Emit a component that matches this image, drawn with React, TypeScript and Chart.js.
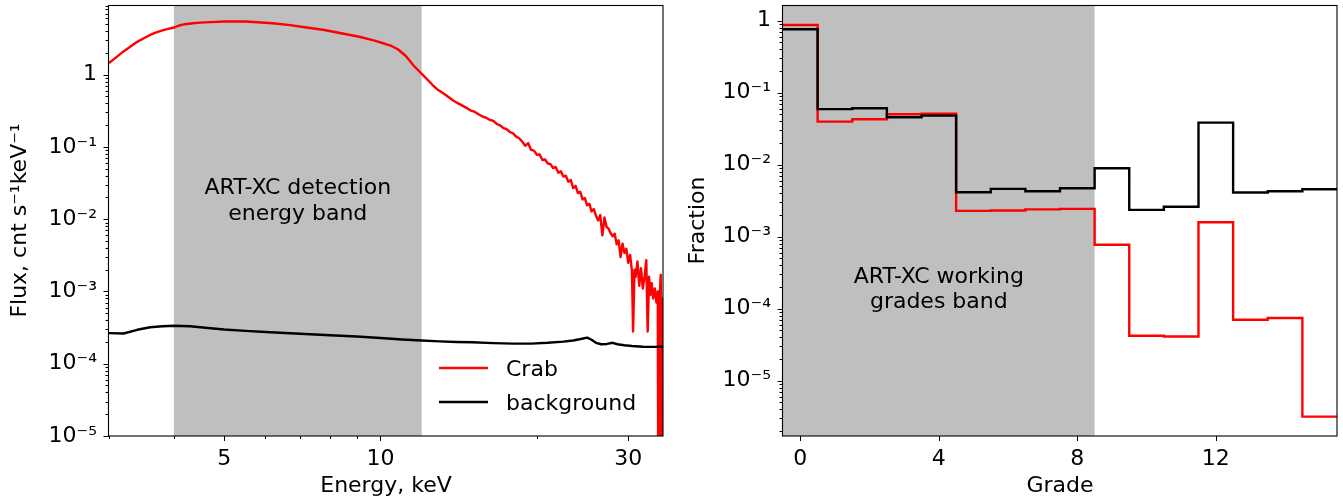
import React, { useEffect, useRef } from 'react';
import { Chart, registerables } from 'chart.js';

Chart.register(...registerables);

const FONT = "'DejaVu Sans', 'Liberation Sans', sans-serif";
const FS = 22;

// ---------- Left panel: spectra ----------
const crabEnergy = [
  3.0, 3.1, 3.2, 3.3, 3.4, 3.5, 3.6, 3.7, 3.8, 3.9, 4.0, 4.1, 4.2, 4.35, 4.5, 4.7, 5.0, 5.25, 5.5, 5.8,
  6.2, 6.7, 7.2, 7.8, 8.4, 9.1, 9.7, 10.2, 10.5, 10.8, 11.2, 11.6, 12.1, 12.6, 12.85, 13.1, 13.35, 13.6, 13.85, 14.2,
  14.5, 14.9, 15.2, 15.5, 15.75, 16.0,
  16.25, 16.5, 16.75, 17.0, 17.25, 17.5, 17.75, 18.0, 18.25, 18.5, 18.75, 19.0, 19.25, 19.5, 19.75, 20.0,
  20.25, 20.5, 20.75, 21.0, 21.25, 21.5, 21.75, 22.0, 22.25, 22.5, 22.75, 23.0, 23.25, 23.5, 23.75, 24.0,
  24.25, 24.5, 24.75, 25.0, 25.25, 25.5, 25.75, 26.0, 26.25, 26.5, 26.75, 27.0, 27.25, 27.5, 27.75, 28.0,
  28.25, 28.5, 28.75, 29.0, 29.25, 29.5, 29.75, 30.0, 30.25, 30.5, 30.65, 30.85, 31.0, 31.25, 31.5, 31.75,
  32.0, 32.25, 32.5, 32.7, 32.9, 33.1, 33.3, 33.5, 33.75, 34.0, 34.2, 34.3, 34.5, 34.65, 34.8, 34.95, 35.1,
];
const crabFlux = [
  1.45, 1.75, 2.1, 2.45, 2.85, 3.2, 3.55, 3.85, 4.1, 4.3, 4.5, 4.8, 5.0, 5.15, 5.25, 5.35, 5.45, 5.48, 5.45, 5.32,
  5.15, 4.85, 4.5, 4.15, 3.75, 3.35, 2.98, 2.68, 2.5, 2.25, 1.8, 1.32, 0.97, 0.72, 0.63, 0.575, 0.525, 0.475, 0.432, 0.392,
  0.362, 0.322, 0.305, 0.279, 0.262, 0.252,
  0.236, 0.229, 0.208, 0.199, 0.183, 0.176, 0.161, 0.154, 0.139, 0.132, 0.118, 0.104, 0.113, 0.091, 0.089, 0.078,
  0.079, 0.066, 0.067, 0.059, 0.058, 0.051, 0.053, 0.044, 0.046, 0.039, 0.04, 0.033, 0.035, 0.027, 0.029, 0.023,
  0.024, 0.0188, 0.0196, 0.0156, 0.0163, 0.0128, 0.0138, 0.0112, 0.0096, 0.0114, 0.006, 0.0106, 0.0078, 0.0074, 0.0064, 0.0058,
  0.0063, 0.0045, 0.0051, 0.003, 0.0046, 0.0034, 0.0039, 0.0025, 0.0032, 0.0019, 0.00028, 0.002, 0.0016, 0.0026, 0.0012, 0.0021,
  0.0011, 0.0016, 0.0027, 0.00028, 0.0016, 0.0009, 0.0013, 0.0008, 0.0011, 0.0007, 0.001, 1e-7, 0.0009, 0.0017, 1e-7, 0.0008, 0.0008,
];
const bkgEnergy = [
  3.0, 3.2, 3.4, 3.6, 3.8, 4.0, 4.3, 4.6, 5.0, 5.5, 6.0, 7.0, 8.0, 9.0, 10.0, 11.0, 12.0, 13.0, 14.0, 15.0,
  16.5, 18.0, 19.5, 21.0, 22.5, 23.5, 24.3, 25.0, 25.5, 26.0, 26.6, 27.3, 28.0, 28.6, 29.5, 30.5, 32.0, 33.5, 35.0,
];
const bkgFlux = [
  2.65e-4, 2.62e-4, 2.95e-4, 3.2e-4, 3.3e-4, 3.36e-4, 3.3e-4, 3.15e-4, 2.98e-4, 2.85e-4, 2.75e-4, 2.6e-4, 2.48e-4,
  2.38e-4, 2.27e-4, 2.17e-4, 2.1e-4, 2.04e-4, 2.0e-4, 1.98e-4, 1.93e-4, 1.9e-4, 1.9e-4, 1.95e-4, 2.02e-4, 2.1e-4,
  2.2e-4, 2.3e-4, 2.15e-4, 1.95e-4, 1.86e-4, 1.88e-4, 1.95e-4, 1.86e-4, 1.8e-4, 1.76e-4, 1.72e-4, 1.71e-4, 1.72e-4,
];
const energyBand = [4, 12];
const energyTicks = [5, 10, 30];
const energyMinorTicks = [3, 4, 6, 7, 8, 9, 20];
const fluxTicks = [1e-5, 1e-4, 1e-3, 1e-2, 1e-1, 1];
const energyRange = [3, 35];
const fluxRange = [1e-5, 9.22];

// ---------- Right panel: grades ----------
const grades = [0, 1, 2, 3, 4, 5, 6, 7, 8, 9, 10, 11, 12, 13, 14, 15];
const gradeBkg = [0.76, 0.059, 0.0607, 0.0455, 0.048, 0.00414, 0.0046, 0.00427, 0.0047, 0.0089, 0.00235, 0.0026, 0.0383, 0.0041, 0.00427, 0.00455];
const gradeCrab = [0.87, 0.0396, 0.0427, 0.05, 0.0508, 0.00228, 0.00231, 0.00239, 0.00243, 0.00077, 4.2e-5, 4.1e-5, 0.00158, 7.0e-5, 7.4e-5, 3.16e-6];
const gradeBand = [-0.5, 8.5];
const gradeTicks = [0, 4, 8, 12];
const fractionTicks = [1e-5, 1e-4, 1e-3, 1e-2, 1e-1, 1];
const gradeRange = [-0.5, 15.5];
const fractionRange = [1.7e-6, 1.65];

const SUP: Record<string, string> = { '-': '⁻', '0': '⁰', '1': '¹', '2': '²', '3': '³', '4': '⁴', '5': '⁵', '6': '⁶', '7': '⁷', '8': '⁸', '9': '⁹' };
const sup = (n: number) => String(n).split('').map((c) => SUP[c]).join('');
const logLabel = (v: number) => {
  const e = Math.round(Math.log10(v));
  return e === 0 ? '1' : '10' + sup(e);
};

// stairs: edges at g-0.5 .. g+0.5, with a final closing point
const stairs = (xs: number[], ys: number[]) => {
  const pts = xs.map((g, i) => ({ x: g - 0.5, y: ys[i] }));
  pts.push({ x: xs[xs.length - 1] + 0.5, y: ys[ys.length - 1] });
  return pts;
};

type Overlay = {
  band: number[];
  xMajor: number[];
  xMinor: number[];
  texts: { x: number; y: number; lines: string[] };
  legend?: { label: string; color: string }[];
};

const overlay = (cfg: Overlay) => ({
  id: 'overlay',
  beforeDatasetsDraw(chart: any) {
    const { ctx, chartArea: a, scales } = chart;
    const x1 = Math.max(a.left, scales.x.getPixelForValue(cfg.band[0]));
    const x2 = Math.min(a.right, scales.x.getPixelForValue(cfg.band[1]));
    ctx.save();
    ctx.fillStyle = '#bfbfbf';
    ctx.fillRect(x1, a.top, x2 - x1, a.bottom - a.top);
    ctx.fillStyle = '#000';
    ctx.font = `${FS}px ${FONT}`;
    ctx.textAlign = 'center';
    ctx.textBaseline = 'alphabetic';
    const tx = scales.x.getPixelForValue(cfg.texts.x);
    const ty = scales.y.getPixelForValue(cfg.texts.y);
    cfg.texts.lines.forEach((t, i) => ctx.fillText(t, tx, ty + i * 25.3));
    ctx.restore();
  },
  afterDraw(chart: any) {
    const { ctx, chartArea: a, scales } = chart;
    const xs = scales.x;
    const ys = scales.y;
    ctx.save();
    ctx.strokeStyle = '#000';
    ctx.lineWidth = 1.1;
    ctx.strokeRect(Math.round(a.left) - 0.5, Math.round(a.top) + 0.5, Math.round(a.right - a.left) + 0.5, Math.round(a.bottom - a.top) - 0.5);
    ctx.lineWidth = 1;
    const tick = (x1: number, y1: number, x2: number, y2: number) => {
      ctx.beginPath();
      ctx.moveTo(x1, y1);
      ctx.lineTo(x2, y2);
      ctx.stroke();
    };
    const b = Math.round(a.bottom);
    const l = Math.round(a.left) - 0.5;
    cfg.xMajor.forEach((v) => {
      const p = Math.round(xs.getPixelForValue(v)) + 0.5;
      tick(p, b, p, b + 5);
    });
    cfg.xMinor.forEach((v) => {
      const p = Math.round(xs.getPixelForValue(v)) + 0.5;
      tick(p, b, p, b + 3);
    });
    const yMin = ys.min;
    const yMax = ys.max;
    for (let k = Math.floor(Math.log10(yMin)); k <= Math.ceil(Math.log10(yMax)); k++) {
      for (let m = 1; m <= 9; m++) {
        const v = m * Math.pow(10, k);
        if (v < yMin * 0.999 || v > yMax) continue;
        const p = Math.round(ys.getPixelForValue(v)) + 0.5;
        tick(l, p, l - (m === 1 ? 5 : 3), p);
      }
    }
    if (cfg.legend) {
      ctx.font = `${FS}px ${FONT}`;
      ctx.textAlign = 'left';
      ctx.textBaseline = 'middle';
      cfg.legend.forEach((item, i) => {
        const y = a.bottom - 68 + i * 34;
        ctx.strokeStyle = item.color;
        ctx.lineWidth = 2.4;
        tick(a.right - 224, y, a.right - 175, y);
        ctx.fillStyle = '#000';
        ctx.fillText(item.label, a.right - 157, y + 2);
      });
    }
    ctx.restore();
  },
});

const tickFont = { size: FS, family: FONT };

function axisX(range: number[], type: string, ticks: number[], title: string, labelFn: (v: number) => string) {
  return {
    type,
    min: range[0],
    max: range[1],
    bounds: 'data',
    afterBuildTicks: (s: any) => {
      s.ticks = ticks.map((v) => ({ value: v }));
    },
    afterFit: (s: any) => {
      s.height = 62;
      s.paddingLeft = 0;
      s.paddingRight = 0;
    },
    grid: { display: false, drawTicks: false },
    border: { display: false },
    ticks: { autoSkip: false, maxRotation: 0, minRotation: 0, padding: 10, color: '#000', font: tickFont, callback: (v: any) => labelFn(Number(v)) },
    title: { display: true, text: title, color: '#000', font: { size: FS, family: FONT, lineHeight: 1.1 }, padding: { top: 0, bottom: 0 } },
  };
}

function axisY(range: number[], ticks: number[], title: string, width: number, titlePad: number) {
  return {
    type: 'logarithmic',
    min: range[0],
    max: range[1],
    bounds: 'data',
    afterBuildTicks: (s: any) => {
      s.ticks = ticks.map((v) => ({ value: v }));
    },
    afterFit: (s: any) => {
      s.width = width;
      s.paddingTop = 0;
      s.paddingBottom = 0;
    },
    grid: { display: false, drawTicks: false },
    border: { display: false },
    ticks: { autoSkip: false, padding: 12, color: '#000', font: tickFont, callback: (v: any) => logLabel(Number(v)) },
    title: { display: true, text: title, color: '#000', font: { size: FS, family: FONT, lineHeight: 1.2 }, padding: { top: titlePad, bottom: 0 } },
  };
}

function SpectrumChart() {
  const ref = useRef<HTMLCanvasElement>(null);
  useEffect(() => {
    const chart = new Chart(ref.current as HTMLCanvasElement, {
      type: 'line',
      data: {
        datasets: [
          {
            label: 'background',
            data: bkgEnergy.map((e, i) => ({ x: e, y: bkgFlux[i] })),
            borderColor: '#000000',
            borderWidth: 2.4,
            pointRadius: 0,
            tension: 0,
            borderJoinStyle: 'round',
          },
          {
            label: 'Crab',
            data: crabEnergy.map((e, i) => ({ x: e, y: crabFlux[i] })),
            borderColor: '#ff0000',
            borderWidth: 2.4,
            pointRadius: 0,
            tension: 0,
            borderJoinStyle: 'round',
          },
        ],
      },
      options: {
        animation: false,
        responsive: false,
        maintainAspectRatio: false,
        layout: { padding: { left: 0, right: 9, top: 5, bottom: 0 } },
        plugins: { legend: { display: false }, tooltip: { enabled: false } },
        scales: {
          x: axisX(energyRange, 'logarithmic', energyTicks, 'Energy, keV', (v) => String(Math.round(v))),
          y: axisY(fluxRange, fluxTicks, 'Flux, cnt s⁻¹keV⁻¹', 109, 7.5),
        },
      } as any,
      plugins: [
        overlay({
          band: energyBand,
          xMajor: energyTicks,
          xMinor: energyMinorTicks,
          texts: { x: 6.93, y: 0.0221, lines: ['ART-XC detection', 'energy band'] },
          legend: [
            { label: 'Crab', color: '#ff0000' },
            { label: 'background', color: '#000000' },
          ],
        }),
      ],
    });
    return () => chart.destroy();
  }, []);
  return <canvas ref={ref} width={672} height={498} style={{ position: 'absolute', left: 0, top: 0, display: 'block' }} />;
}

function GradeChart() {
  const ref = useRef<HTMLCanvasElement>(null);
  useEffect(() => {
    const chart = new Chart(ref.current as HTMLCanvasElement, {
      type: 'line',
      data: {
        datasets: [
          {
            label: 'background',
            data: stairs(grades, gradeBkg),
            borderColor: '#000000',
            borderWidth: 2.4,
            pointRadius: 0,
            stepped: 'before',
            borderJoinStyle: 'miter',
          },
          {
            label: 'Crab',
            data: stairs(grades, gradeCrab),
            borderColor: '#ff0000',
            borderWidth: 2.4,
            pointRadius: 0,
            stepped: 'before',
            borderJoinStyle: 'miter',
          },
        ],
      },
      options: {
        animation: false,
        responsive: false,
        maintainAspectRatio: false,
        layout: { padding: { left: 0, right: 6, top: 5, bottom: 0 } },
        plugins: { legend: { display: false }, tooltip: { enabled: false } },
        scales: {
          x: axisX(gradeRange, 'linear', gradeTicks, 'Grade', (v) => String(Math.round(v))),
          y: axisY(fractionRange, fractionTicks, 'Fraction', 111, 13),
        },
      } as any,
      plugins: [
        overlay({
          band: gradeBand,
          xMajor: gradeTicks,
          xMinor: [],
          texts: { x: 4, y: 2.27e-4, lines: ['ART-XC working', 'grades band'] },
        }),
      ],
    });
    return () => chart.destroy();
  }, []);
  return <canvas ref={ref} width={671} height={498} style={{ position: 'absolute', left: 672, top: 0, display: 'block' }} />;
}

export default function App() {
  return (
    <div style={{ position: 'absolute', left: 0, top: 0, width: 1343, height: 498, background: '#ffffff', overflow: 'hidden' }}>
      <SpectrumChart />
      <GradeChart />
    </div>
  );
}
